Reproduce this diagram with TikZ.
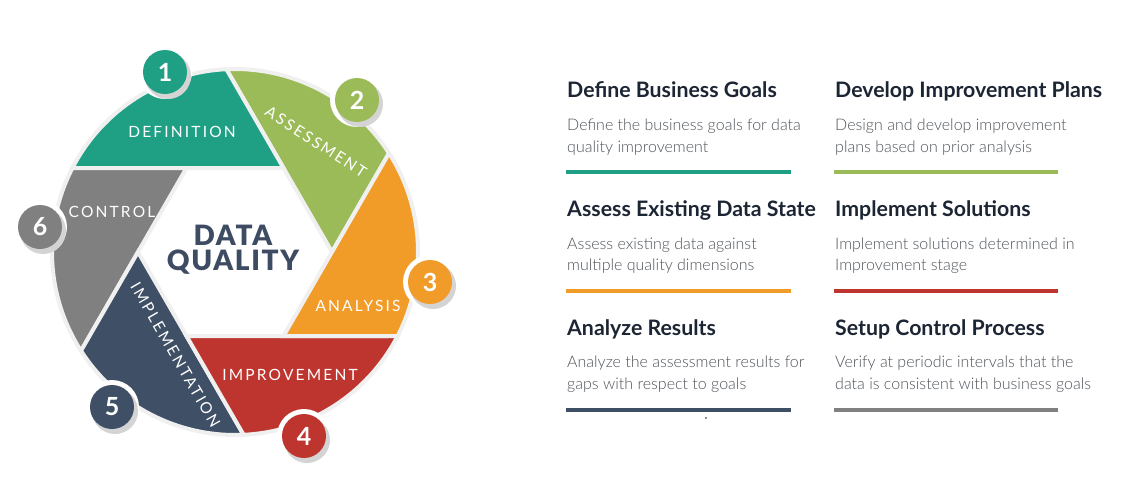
\documentclass[tikz,border=0pt]{standalone}
\usepackage{fontspec}
\setmainfont{Lato}
\newfontfamily\lightfont{Lato Light}
\newfontfamily\heavyfont{Lato Black}

\definecolor{cteal}{HTML}{1FA084}
\definecolor{cgreen}{HTML}{9BBB59}
\definecolor{corange}{HTML}{F19B28}
\definecolor{cred}{HTML}{BE3530}
\definecolor{cnavy}{HTML}{3F4F66}
\definecolor{cgray}{HTML}{808080}
\definecolor{ctitle}{HTML}{3D4B63}
\definecolor{chead}{HTML}{1C2533}
\definecolor{cbody}{HTML}{4E5359}
\definecolor{cgap}{HTML}{F0F0F0}
\definecolor{cshade}{HTML}{D4D4D4}

\newcommand{\hdfont}{\bfseries\fontsize{21.3}{24}\selectfont}
\newcommand{\bdfont}{\lightfont\fontsize{16}{22}\selectfont}
\newcommand{\lblfont}{\fontsize{15.5}{18}\selectfont\addfontfeatures{LetterSpace=14}}
\newcommand{\numfont}{\bfseries\fontsize{25}{28}\selectfont}
\newcommand{\ttlfont}{\heavyfont\fontsize{28}{30}\selectfont\addfontfeatures{LetterSpace=6}}

\begin{document}
\begin{tikzpicture}[x=1pt,y=-1pt,
  blade/.style={fill=#1, draw=cgap, line width=4, line join=miter},
  bladeshade/.style={fill=cshade},
  lbl/.style={text=white, font=\lblfont, inner sep=0},
  numring/.style={fill=white, circle, inner sep=0, minimum size=54},
  numshade/.style={fill=cshade, circle, inner sep=0, minimum size=46},
  numdisk/.style={fill=#1, circle, inner sep=0, minimum size=44, text=white, font=\numfont},
  head/.style={anchor=base west, inner sep=0, font=\hdfont, text=chead},
  body/.style={anchor=base west, inner sep=0, font=\bdfont, text=cbody},
  rulebar/.style={line width=4},
  ttl/.style={anchor=base, inner sep=0, font=\ttlfont, text=ctitle}]
\useasboundingbox (0,0) rectangle (1129,485);

% hexagonal opening of the aperture
\coordinate (H0) at (332,252);
\coordinate (H1) at (283.5,168);
\coordinate (H2) at (186.5,168);
\coordinate (H3) at (138,252);
\coordinate (H4) at (186.5,336);
\coordinate (H5) at (283.5,336);
% where each blade edge meets the rim
\coordinate (P0) at (389.0,153.2);
\coordinate (P1) at (226.4,69.2);
\coordinate (P2) at (72.4,168.0);
\coordinate (P3) at (81.0,350.8);
\coordinate (P4) at (243.6,434.8);
\coordinate (P5) at (397.6,336.0);

% blade shadows
\begin{scope}[shift={(2,3)}]
\foreach \j/\k in {0/1,1/2,2/3,3/4,4/5,5/0}
  \fill[bladeshade] (H\j) -- (P\j) arc[start angle={32.68+60*\j}, end angle={92.68+60*\j}, radius=183pt] -- (H\k) -- cycle;
\end{scope}

% blades
\foreach \j/\k/\c in {0/1/cgreen,1/2/cteal,2/3/cgray,3/4/cnavy,4/5/cred,5/0/corange}
  \draw[blade=\c] (H\j) -- (P\j) arc[start angle={32.68+60*\j}, end angle={92.68+60*\j}, radius=183pt] -- (H\k) -- cycle;

% blade labels
\node[lbl] (ldef) at (182,132) {DEFINITION};
\node[lbl, rotate=-33] (lass) at (316,142) {ASSESSMENT};
\node[lbl] (lana) at (358,306) {ANALYSIS};
\node[lbl] (limp) at (290,375) {IMPROVEMENT};
\node[lbl, rotate=-60] (lmpl) at (175.5,355) {IMPLEMENTATION};
\node[lbl] (lctl) at (112,212) {CONTROL};

% centre title
\node[ttl] (tdata) at (233,245) {DATA};
\node[ttl] (tqual) at (233,270) {QUALITY};

% step numbers
\foreach \n/\x/\y/\c in {1/165/72/cteal, 2/357/100/cgreen, 3/430/282/corange, 4/304/436/cred, 5/112/407/cnavy, 6/40/227/cgray} {
  \node[numring] (ring\n) at (\x,\y) {};
  \node[numshade] (shade\n) at (\x+3,\y+4) {};
  \node[numdisk=\c] (num\n) at (\x,\y) {\n};
}

% descriptions, first column
\node[head] (h1) at (567,97) {Define Business Goals};
\node[body] (b1a) at (567,130) {Define the business goals for data};
\node[body] (b1b) at (567,152) {quality improvement};
\draw[rulebar, cteal] (566,172) -- (791,172);

\node[head] (h2) at (567,216) {Assess Existing Data State};
\node[body] (b2a) at (567,249) {Assess existing data against};
\node[body] (b2b) at (567,270) {multiple quality dimensions};
\draw[rulebar, corange] (566,291) -- (791,291);

\node[head] (h3) at (567,335) {Analyze Results};
\node[body] (b3a) at (567,367) {Analyze the assessment results for};
\node[body] (b3b) at (567,389) {gaps with respect to goals};
\draw[rulebar, cnavy] (566,410) -- (791,410);
\fill[chead] (706,418) circle[radius=0.9];

% descriptions, second column
\node[head] (h4) at (835,97) {Develop Improvement Plans};
\node[body] (b4a) at (835,130) {Design and develop improvement};
\node[body] (b4b) at (835,152) {plans based on prior analysis};
\draw[rulebar, cgreen] (834,172) -- (1058,172);

\node[head] (h5) at (835,216) {Implement Solutions};
\node[body] (b5a) at (835,249) {Implement solutions determined in};
\node[body] (b5b) at (835,270) {Improvement stage};
\draw[rulebar, cred] (834,291) -- (1058,291);

\node[head] (h6) at (835,335) {Setup Control Process};
\node[body] (b6a) at (835,367) {Verify at periodic intervals that the};
\node[body] (b6b) at (835,389) {data is consistent with business goals};
\draw[rulebar, cgray] (834,410) -- (1058,410);
\end{tikzpicture}
\end{document}
